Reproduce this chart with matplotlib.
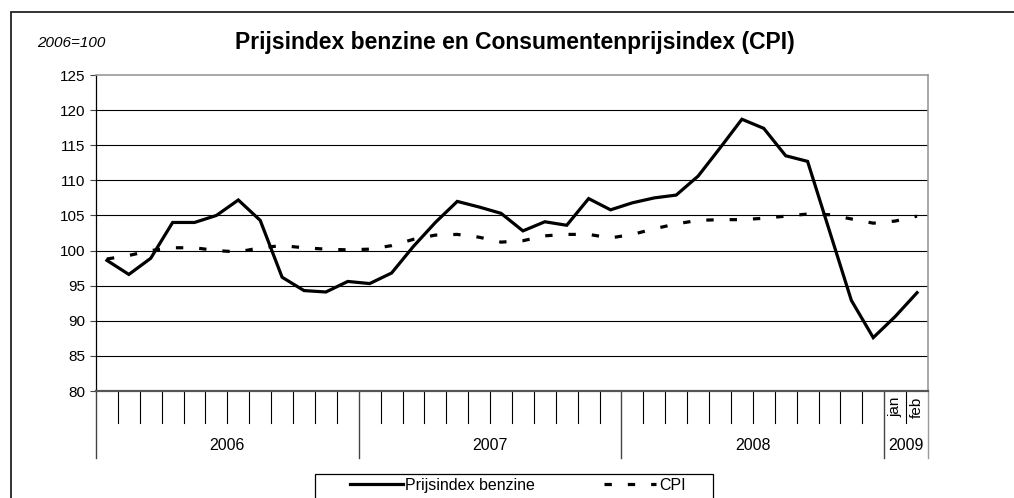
import numpy as np
import matplotlib.pyplot as plt
from matplotlib.patches import Rectangle

plt.rcParams['font.family'] = ['Liberation Sans', 'DejaVu Sans']

# Data: monthly, Jan 2006 - Feb 2009 (2006=100)
benzine = [98.6, 96.6, 98.9, 104.0, 104.0, 105.0, 107.2, 104.3, 96.2, 94.3,
           94.1, 95.6, 95.3, 96.8, 100.6, 104.0, 107.0, 106.2, 105.3, 102.8,
           104.1, 103.6, 107.4, 105.8, 106.8, 107.5, 107.9, 110.6, 114.6, 118.7,
           117.4, 113.5, 112.7, 102.8, 92.9, 87.6, 90.6, 94.0]
cpi = [98.8, 99.3, 100.0, 100.4, 100.4, 100.0, 99.8, 100.4, 100.7, 100.4,
       100.2, 100.1, 100.2, 100.7, 101.6, 102.2, 102.3, 101.9, 101.2, 101.4,
       102.1, 102.3, 102.3, 101.8, 102.3, 103.1, 103.8, 104.3, 104.4, 104.4,
       104.6, 104.9, 105.2, 105.1, 104.5, 103.9, 104.2, 104.9]
years = ['2006', '2007', '2008', '2009']
year_months = [12, 12, 12, 2]
month_labels = ['jan', 'feb']   # shown only for 2009
yticks = [80, 85, 90, 95, 100, 105, 110, 115, 120, 125]

n = len(benzine)
x = np.arange(n) + 0.5

fig = plt.figure(figsize=(10.14, 4.98), dpi=100)
ax = fig.add_axes([96/1014, 1-391/498, (928-96)/1014, (391-75)/498])

# outer chart frame
fig.patches.append(Rectangle((11/1014, -0.1), 1.2, 1-12/498+0.1, transform=fig.transFigure,
                             fill=False, edgecolor='#222222', linewidth=1.3))

for v in yticks[1:-1]:
    ax.axhline(v, color='black', linewidth=0.8, zorder=1)

ax.plot(x, benzine, color='black', linewidth=2.3, solid_joinstyle='miter',
        label='Prijsindex benzine', zorder=3)
ax.plot(x, cpi, color='black', linewidth=2.3, dashes=(2.3, 5.0),
        label='CPI', zorder=3)

ax.set_xlim(0, n)
ax.set_ylim(80, 125)
ax.set_yticks(yticks)
ax.tick_params(axis='y', length=4.5, width=0.8, color='#444444', labelsize=11, pad=3)
ax.set_xticks([])

for s in ['top', 'right']:
    ax.spines[s].set_color('#999999')
    ax.spines[s].set_linewidth(1.2)
ax.spines['left'].set_color('black')
ax.spines['left'].set_linewidth(0.9)
ax.spines['bottom'].set_color('#555555')
ax.spines['bottom'].set_linewidth(1.6)

# category axis with months and years
tr = ax.get_xaxis_transform()
h = 316.0
short = -32/h
long_ = -67/h
bounds = np.cumsum([0] + year_months)
for i in range(1, n):
    if i in bounds:
        continue
    ax.plot([i, i], [0, short], transform=tr, color='black', linewidth=0.8, clip_on=False)
for b in bounds:
    col = '#999999' if b == n else '#444444'
    ax.plot([b, b], [0, long_], transform=tr, color=col, linewidth=1.0, clip_on=False)
for k, yr in enumerate(years):
    ax.text((bounds[k] + bounds[k+1]) / 2, -54/h, yr, transform=tr,
            ha='center', va='center', fontsize=11.5)
for j, m in enumerate(month_labels):
    ax.text(bounds[-2] + j + 0.5, -6/h, m, transform=tr, rotation=90,
            ha='center', va='top', fontsize=11)

fig.text(37/1014, 1-43/498, '2006=100', style='italic', fontsize=11, va='center')
fig.text(515/1014, 1-43/498, 'Prijsindex benzine en Consumentenprijsindex (CPI)',
         fontsize=16.5, fontweight='bold', ha='center', va='center')

# legend box and entries
fig.patches.append(Rectangle((315/1014, -0.1), 398/1014, 1-474/498+0.1, transform=fig.transFigure,
                             fill=False, edgecolor='black', linewidth=0.9))
fig.legend(loc='upper left', bbox_to_anchor=(350/1014, 1-478/498), ncol=2, fontsize=11.5,
           frameon=False, handlelength=3.3, handletextpad=0.15, columnspacing=4.3,
           borderpad=0, borderaxespad=0)

fig.savefig('out.png', dpi=100)
